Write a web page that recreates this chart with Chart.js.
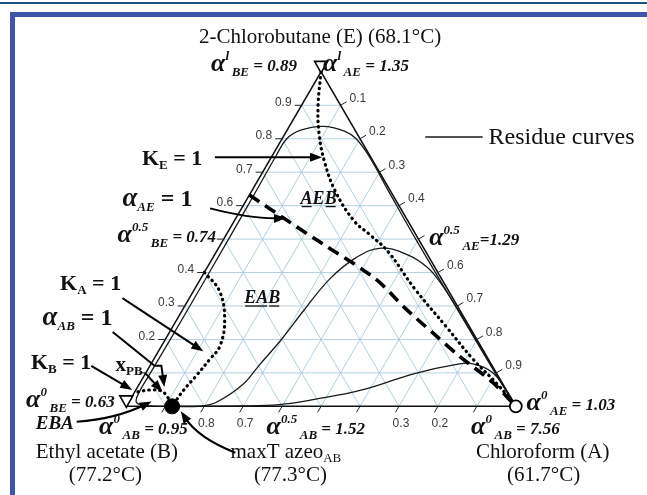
<!DOCTYPE html>
<html>
<head>
<meta charset="utf-8">
<script src="https://cdn.jsdelivr.net/npm/chart.js@4.4.0/dist/chart.umd.min.js"></script>
<style>
  body { margin: 0; background: #fff; width: 647px; height: 495px; overflow: hidden; position: relative; }
  #topline { position: absolute; left: 0; top: 2px; width: 647px; height: 2px; background: #1b5281; }
  #frame { position: absolute; left: 10px; top: 12px; width: 660px; height: 520px;
           border-left: 5px solid #3d56a8; border-top: 5px solid #3d56a8; }
  canvas { position: absolute; left: 0; top: 0; }
</style>
</head>
<body>
<div id="topline"></div>
<div id="frame"></div>
<canvas id="tern" width="647" height="495"></canvas>
<script>
// compositions are mole fractions: A = chloroform, E = 2-chlorobutane, B = ethyl acetate (xB = 1 - xA - xE)
var azeoA = 0.1175;   // maxT azeotrope on the A-B side

// residue curves
var rc1A = [1.0, 0.9, 0.7, 0.5, 0.35, 0.25, 0.19, 0.1485, 0.0865, 0.035, 0.012, 0.01, 0.012, 0.013, 0.013, 0.012, 0.012, 0.02, 0.05, 0.1175];
var rc1E = [0.0, 0.097, 0.295, 0.493, 0.645, 0.747, 0.8, 0.823, 0.837, 0.8256, 0.8, 0.75, 0.6, 0.4, 0.2, 0.1, 0.04, 0.012, 0.002, 0.0];
var rc2A = [1.0, 0.9, 0.8, 0.712, 0.619, 0.5645, 0.496, 0.418, 0.3677, 0.332, 0.3121, 0.2979, 0.2794, 0.2657, 0.2242, 0.185, 0.1175];
var rc2E = [0.0, 0.098, 0.197, 0.284, 0.372, 0.416, 0.453, 0.473, 0.4446, 0.381, 0.2858, 0.1992, 0.1212, 0.0635, 0.0115, 0.0, 0.0];
var rc3A = [1.0, 0.958, 0.8895, 0.8265, 0.7915, 0.691, 0.5805, 0.47, 0.39, 0.3, 0.1175];
var rc3E = [0.0, 0.042, 0.101, 0.127, 0.127, 0.098, 0.049, 0.02, 0.005, 0.001, 0.0];

// unidistribution / univolatility lines
var kEA = [0, 0.042, 0.088, 0.146, 0.217, 0.308, 0.372, 0.4415, 0.564, 0.704, 0.819, 0.923, 1];
var kEE = [1, 0.9007, 0.814, 0.7275, 0.641, 0.554, 0.511, 0.462, 0.352, 0.2367, 0.1415, 0.0635, 0];
var aAEA = [0, 0.148, 0.2625, 0.4495, 0.5677, 0.6817, 0.78, 0.9039, 1];
var aAEE = [0.632, 0.5485, 0.485, 0.381, 0.2945, 0.2165, 0.15, 0.0722, 0];
var kAA = [0, 0.068, 0.124, 0.1505, 0.144, 0.134, 0.123, 0.1175];
var kAE = [0.401, 0.3435, 0.257, 0.179, 0.1415, 0.0924, 0.049, 0];
var kBA = [0.0083, 0.0355, 0.067, 0.0905, 0.1175];
var kBE = [0.0433, 0.049, 0.046, 0.029, 0];

// axis ticks
var tickSteps = [0.1, 0.2, 0.3, 0.4, 0.5, 0.6, 0.7, 0.8, 0.9];
var leftLabels = [0.2, 0.3, 0.4, 0.6, 0.7, 0.8, 0.9];        // xE along B-E side
var rightLabels = [0.1, 0.2, 0.3, 0.4, 0.6, 0.7, 0.8, 0.9];  // xA along E-A side
var bottomLabels = [0.8, 0.7, 0.3, 0.2];                     // xB along B-A side

var H = Math.sqrt(3) / 2;
function tern(aList, eList) {
  return aList.map(function (a, i) { return { x: a + eList[i] / 2, y: eList[i] * H }; });
}

var SERIF = '"Liberation Serif", "Times New Roman", serif';
var SANS = '"Liberation Sans", Arial, sans-serif';
var fA = 'italic bold 26px ' + SERIF;
var fSup = 'italic bold 13px ' + SERIF;
var fSub = 'italic bold 13px ' + SERIF;
var fVal = 'italic bold 17px ' + SERIF;
var fK = 'bold 22px ' + SERIF;
var fKs = 'bold 13px ' + SERIF;
var fPlain = '21px ' + SERIF;
var fReg = 'italic bold 18px ' + SERIF;

function alphaLabel(sup, sub, val) {
  return [['\u03b1', fA], [sup, fSup, -11], ['\u2009' + sub, fSub, 5], [val, fVal]];
}

// annotation text, positions in chart units; a 4th entry true underlines that piece
var labels = [
  { at: [0.4975, 0.94], center: true, parts: [['2-Chlorobutane (E) (68.1\u00b0C)', fPlain]] },
  { at: [0.2175, 0.8675], parts: alphaLabel('l', 'BE', ' = 0.89') },
  { at: [0.505, 0.8675], parts: alphaLabel('l', 'AE', ' = 1.35') },
  { at: [0.04, 0.625], parts: [['K', fK], ['E', fKs, 4], [' = 1', fK]] },
  { at: [-0.01, 0.5175], parts: [['\u03b1', 'italic bold 27px ' + SERIF], ['AE', 'italic bold 13px ' + SERIF, 5], [' = 1', 'bold 24px ' + SERIF]] },
  { at: [-0.0225, 0.425], parts: alphaLabel('0.5', 'BE', ' = 0.74') },
  { at: [0.7775, 0.4175], parts: alphaLabel('0.5', 'AE', '=1.29') },
  { at: [0.4475, 0.525], parts: [['A', fReg, 0, true], ['E', fReg], ['B', fReg, 0, true]] },
  { at: [0.3025, 0.2675], parts: [['EA', fReg, 0, true], ['B', fReg, 0, true]] },
  { at: [-0.17, 0.3], parts: [['K', fK], ['A', fKs, 4], [' = 1', fK]] },
  { at: [-0.215, 0.21], parts: [['\u03b1', 'italic bold 27px ' + SERIF], ['AB', 'italic bold 13px ' + SERIF, 5], [' = 1', 'bold 24px ' + SERIF]] },
  { at: [-0.245, 0.0975], parts: [['K', fK], ['B', fKs, 4], [' = 1', fK]] },
  { at: [-0.0275, 0.0925], parts: [['x', 'bold 21px ' + SERIF], ['PB', 'bold 13px ' + SERIF, 4]] },
  { at: [-0.2575, -0.0025], parts: alphaLabel('0', 'BE', ' = 0.63') },
  { at: [-0.2325, -0.0575], parts: [['EBA', 'italic bold 19px ' + SERIF]] },
  { at: [-0.07, -0.0725], parts: alphaLabel('0', 'AB', ' = 0.95') },
  { at: [0.36, -0.0725], parts: alphaLabel('0.5', 'AB', ' = 1.52') },
  { at: [0.885, -0.0725], parts: alphaLabel('0', 'AB', ' = 7.56') },
  { at: [1.0275, -0.01], parts: alphaLabel('0', 'AE', ' = 1.03') },
  { at: [-0.2325, -0.135], parts: [['Ethyl acetate (B)', fPlain]] },
  { at: [-0.1475, -0.1925], parts: [['(77.2\u00b0C)', fPlain]] },
  { at: [0.2675, -0.135], parts: [['maxT azeo', fPlain], ['AB', '13px ' + SERIF, 4]] },
  { at: [0.3275, -0.1925], parts: [['(77.3\u00b0C)', fPlain]] },
  { at: [0.8975, -0.135], parts: [['Chloroform (A)', fPlain]] },
  { at: [0.9775, -0.1925], parts: [['(61.7\u00b0C)', fPlain]] },
  { at: [0.93, 0.68], parts: [['Residue curves', '24px ' + SERIF]] }
];

// arrows, chart units; last point is the tip, "curve" uses a quadratic control point
var arrows = [
  { pts: [[0.2275, 0.645], [0.5025, 0.645]] },
  { curve: true, pts: [[0.215, 0.5125], [0.3225, 0.485], [0.41, 0.4875]] },
  { pts: [[-0.01, 0.28], [0.1975, 0.1425]] },
  { pts: [[-0.035, 0.1925], [0.0725, 0.105], [0.09, 0.105], [0.0975, 0.05]] },
  { pts: [[0.0475, 0.0875], [0.0925, 0.0375]] },
  { pts: [[-0.09, 0.105], [0.015, 0.0425]] },
  { curve: true, pts: [[-0.1275, -0.04], [-0.0275, -0.0325], [0.065, 0.0125]] },
  { curve: true, pts: [[0.28, -0.12], [0.185, -0.0825], [0.14, -0.0125]] }
];

var datasets = [];
tickSteps.forEach(function (k) {
  [tern([0, 1 - k], [k, k]), tern([k, k], [0, 1 - k]), tern([1 - k, 0], [0, 1 - k])].forEach(function (d) {
    datasets.push({ data: d, showLine: true, borderColor: '#a9cadd', borderWidth: 0.9, pointRadius: 0, order: 10 });
  });
});
function curve(a, e, extra) {
  var ds = { data: tern(a, e), showLine: true, borderColor: '#1a1a1a', borderWidth: 1.3, pointRadius: 0, tension: 0.4, order: 5 };
  for (var k in extra) ds[k] = extra[k];
  datasets.push(ds);
}
curve([0, 1, 0, 0], [0, 0, 1, 0], { tension: 0, borderColor: '#111', borderWidth: 1.5 });
curve(rc1A, rc1E);
curve(rc2A, rc2E);
curve(rc3A, rc3E);
var dots = { borderColor: '#000', borderWidth: 3.2, borderDash: [0.5, 5], borderCapStyle: 'round', order: 3 };
curve(kEA, kEE, dots);
curve(kAA, kAE, dots);
curve(kBA, kBE, dots);
curve(aAEA, aAEE, { borderColor: '#000', borderWidth: 3.6, borderDash: [12, 7], tension: 0.3, order: 3 });
datasets.push({ data: tern([azeoA], [0]), pointRadius: 7.5, pointBackgroundColor: '#000', pointBorderColor: '#000', order: 0 });
datasets.push({ data: tern([1], [0]), pointRadius: 6, pointBackgroundColor: '#fff', pointBorderColor: '#000', pointBorderWidth: 1.8, order: 0 });

var decor = {
  id: 'decor',
  afterDatasetsDraw: function (chart) {
    var ctx = chart.ctx, xs = chart.scales.x, ys = chart.scales.y;
    function P(p) { return [xs.getPixelForValue(p[0]), ys.getPixelForValue(p[1])]; }
    function T(a, e) { return P([a + e / 2, e * H]); }
    ctx.save();
    // ticks
    ctx.strokeStyle = '#222';
    ctx.lineWidth = 1;
    ctx.fillStyle = '#3a3a3a';
    ctx.font = '12px ' + SANS;
    tickSteps.forEach(function (v) {
      var l = T(0, v), r = T(v, 1 - v), b = T(1 - v, 0);
      ctx.beginPath();
      ctx.moveTo(l[0], l[1]); ctx.lineTo(l[0] - 7, l[1]);
      ctx.moveTo(r[0], r[1]); ctx.lineTo(r[0] + 6, r[1] - 3.5);
      ctx.moveTo(b[0], b[1]); ctx.lineTo(b[0] - 3.5, b[1] + 6);
      ctx.stroke();
    });
    ctx.textBaseline = 'middle';
    ctx.textAlign = 'right';
    leftLabels.forEach(function (v) { var p = T(0, v); ctx.fillText(v.toFixed(1), p[0] - 10, p[1] - 3); });
    ctx.textAlign = 'left';
    rightLabels.forEach(function (v) { var p = T(v, 1 - v); ctx.fillText(v.toFixed(1), p[0] + 9, p[1] - 7); });
    ctx.textAlign = 'center';
    bottomLabels.forEach(function (v) { var p = T(1 - v, 0); ctx.fillText(v.toFixed(1), p[0] + 2, p[1] + 17); });

    // hollow down-pointing triangles at E and B
    [T(0, 1), T(0, 0)].forEach(function (p) {
      ctx.beginPath();
      ctx.moveTo(p[0], p[1] + 1);
      ctx.lineTo(p[0] - 6.5, p[1] - 10.5);
      ctx.lineTo(p[0] + 6.5, p[1] - 10.5);
      ctx.closePath();
      ctx.fillStyle = '#fff'; ctx.fill();
      ctx.strokeStyle = '#000'; ctx.lineWidth = 1.6; ctx.stroke();
    });

    // legend line
    var l0 = P([0.7675, 0.6975]), l1 = P([0.915, 0.6975]);
    ctx.strokeStyle = '#1a1a1a'; ctx.lineWidth = 1.6;
    ctx.beginPath(); ctx.moveTo(l0[0], l0[1]); ctx.lineTo(l1[0], l1[1]); ctx.stroke();

    // arrows
    ctx.strokeStyle = '#000'; ctx.fillStyle = '#000'; ctx.lineWidth = 2;
    arrows.forEach(function (ar) {
      var pts = ar.pts.map(P), n = pts.length, tip = pts[n - 1], prev = pts[n - 2];
      var ang = Math.atan2(tip[1] - prev[1], tip[0] - prev[0]);
      var back = [tip[0] - Math.cos(ang) * 8, tip[1] - Math.sin(ang) * 8];
      ctx.beginPath();
      ctx.moveTo(pts[0][0], pts[0][1]);
      if (ar.curve) ctx.quadraticCurveTo(pts[1][0], pts[1][1], back[0], back[1]);
      else { for (var i = 1; i < n - 1; i++) ctx.lineTo(pts[i][0], pts[i][1]); ctx.lineTo(back[0], back[1]); }
      ctx.stroke();
      ctx.save();
      ctx.translate(tip[0], tip[1]); ctx.rotate(ang);
      ctx.beginPath(); ctx.moveTo(0, 0); ctx.lineTo(-12, -4.5); ctx.lineTo(-12, 4.5); ctx.closePath(); ctx.fill();
      ctx.restore();
    });

    // text
    ctx.fillStyle = '#111';
    ctx.strokeStyle = '#111';
    ctx.lineWidth = 1.3;
    ctx.textAlign = 'left';
    ctx.textBaseline = 'alphabetic';
    labels.forEach(function (lb) {
      var p = P(lb.at), w = 0;
      lb.parts.forEach(function (pt) { ctx.font = pt[1]; w += ctx.measureText(pt[0]).width; });
      var x = lb.center ? p[0] - w / 2 : p[0];
      lb.parts.forEach(function (pt) {
        ctx.font = pt[1];
        var pw = ctx.measureText(pt[0]).width;
        ctx.fillText(pt[0], x, p[1] + (pt[2] || 0));
        if (pt[3]) {
          ctx.beginPath(); ctx.moveTo(x + 1, p[1] + 3); ctx.lineTo(x + pw - 1, p[1] + 3); ctx.stroke();
        }
        x += pw;
      });
    });
    ctx.restore();
  }
};

new Chart(document.getElementById('tern'), {
  type: 'scatter',
  data: { datasets: datasets },
  options: {
    responsive: false,
    animation: false,
    devicePixelRatio: 1,
    layout: { padding: 0 },
    plugins: { legend: { display: false }, tooltip: { enabled: false } },
    scales: {
      x: { type: 'linear', min: -0.3025, max: 1.315, display: false },
      y: { type: 'linear', min: -0.2075, max: 1.03, display: false }
    }
  },
  plugins: [decor]
});
</script>
</body>
</html>
